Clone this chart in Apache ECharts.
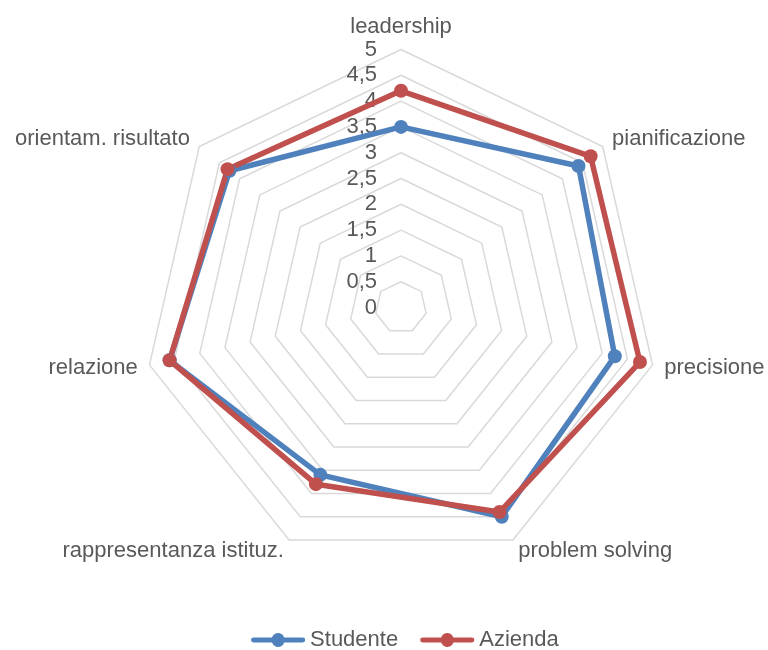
<!DOCTYPE html>
<html>
<head>
<meta charset="utf-8">
<script src="https://cdn.jsdelivr.net/npm/echarts@6/dist/echarts.min.js"></script>
<style>html,body{margin:0;padding:0;background:#fff}#c{width:768px;height:650px}</style>
</head>
<body>
<div id="c"></div>
<script>
// Categories in clockwise order starting from the top
var categories = ['leadership', 'pianificazione', 'precisione', 'problem solving', 'rappresentanza istituz.', 'relazione', 'orientam. risultato'];
var studente = [3.5, 4.4, 4.25, 4.5, 3.6, 4.6, 4.25];
var azienda = [4.2, 4.7, 4.75, 4.4, 3.8, 4.6, 4.3];
var tickLabels = ['0', '0,5', '1', '1,5', '2', '2,5', '3', '3,5', '4', '4,5', '5'];
var seriesNames = ['Studente', 'Azienda'];
var colors = ['#4f81bd', '#c0504d'];

// ECharts radar places indicators counter-clockwise: reorder so they appear clockwise
var order = [0];
for (var i = categories.length - 1; i >= 1; i--) order.push(i);
function reorder(arr) { return order.map(function (k) { return arr[k]; }); }

var indicators = reorder(categories).map(function (name, idx) {
  var ind = { name: name, min: 0, max: 5 };
  ind.axisLabel = { show: idx === 0 };
  return ind;
});

var legendIcon = 'path://M3,4.3 L23.3,4.3 A7,7 0 0 1 36.7,4.3 L57,4.3 A2.7,2.7 0 0 1 57,9.7 L36.7,9.7 A7,7 0 0 1 23.3,9.7 L3,9.7 A2.7,2.7 0 0 1 3,4.3 Z';

var chart = echarts.init(document.getElementById('c'), null, { renderer: 'canvas' });
chart.setOption({
  animation: false,
  color: colors,
  textStyle: { fontFamily: 'Liberation Sans, Arial, sans-serif' },
  legend: {
    data: seriesNames,
    left: 246,
    top: 624,
    icon: legendIcon,
    itemWidth: 60,
    itemHeight: 14,
    itemGap: 22,
    textStyle: { fontSize: 22, color: '#595959', padding: [0, 0, 0, -3] }
  },
  radar: {
    center: [401, 307.5],
    radius: 258,
    shape: 'polygon',
    splitNumber: 10,
    startAngle: 90,
    indicator: indicators,
    axisName: { color: '#595959', fontSize: 22, fontFamily: 'Liberation Sans, Arial, sans-serif' },
    nameGap: 12,
    axisLine: { show: false },
    axisTick: { show: false },
    splitArea: { show: false },
    splitLine: { lineStyle: { color: '#d9d9d9', width: 1.5 } },
    axisLabel: {
      show: false,
      color: '#595959',
      fontSize: 22,
      margin: 24,
      formatter: function (v) { return tickLabels[Math.round(v * 2)]; }
    }
  },
  series: [{
    type: 'radar',
    symbol: 'circle',
    symbolSize: 14,
    data: [
      { name: seriesNames[0], value: reorder(studente), itemStyle: { color: colors[0] }, lineStyle: { color: colors[0], width: 5.5 } },
      { name: seriesNames[1], value: reorder(azienda), itemStyle: { color: colors[1] }, lineStyle: { color: colors[1], width: 5.5 } }
    ]
  }]
});
</script>
</body>
</html>
